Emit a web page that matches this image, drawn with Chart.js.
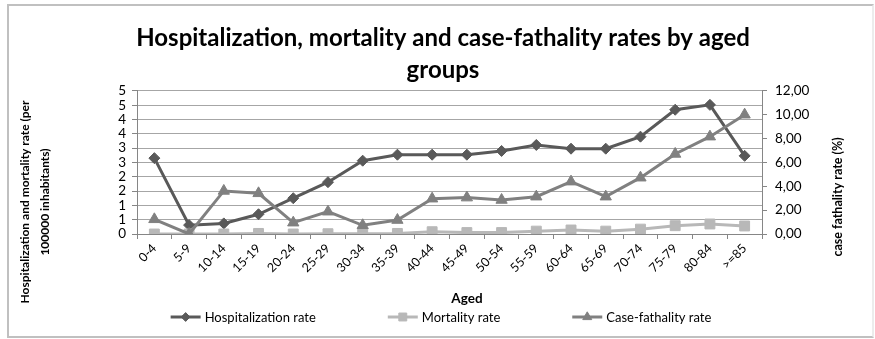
<!DOCTYPE html>
<html>
<head>
<meta charset="utf-8">
<script src="https://cdn.jsdelivr.net/npm/chart.js@4.4.1/dist/chart.umd.min.js"></script>
<style>
  html, body { margin: 0; padding: 0; background: #fff; }
  #wrap { position: relative; width: 875px; height: 339px; }
  #frame { position: absolute; left: 7px; top: 4px; width: 867px; height: 334px; border: 2px solid #c0c0c0; border-right-color: #ececec; box-sizing: border-box; pointer-events: none; }
  canvas { position: absolute; left: 0; top: 0; }
</style>
</head>
<body>
<div id="wrap">
  <canvas id="c" width="875" height="339"></canvas>
  <div id="frame"></div>
</div>
<script>
// ---- data ----
const titleLines = ['Hospitalization, mortality and case-fathality rates by aged', 'groups'];
const categories = ['0-4','5-9','10-14','15-19','20-24','25-29','30-34','35-39','40-44','45-49','50-54','55-59','60-64','65-69','70-74','75-79','80-84','>=85'];
const hospitalizationRate = [2.65,0.31,0.37,0.69,1.25,1.81,2.56,2.77,2.77,2.77,2.90,3.11,2.98,2.98,3.40,4.34,4.51,2.73];
const mortalityRate = [0.00,0.00,0.00,0.02,0.00,0.01,0.01,0.02,0.08,0.05,0.05,0.10,0.14,0.10,0.17,0.29,0.35,0.28];
const caseFatalityRate = [1.23,0.00,3.61,3.41,0.95,1.87,0.73,1.17,2.96,3.05,2.85,3.13,4.39,3.13,4.72,6.71,8.16,10.00];
const leftTickLabels = ['0','1','1','2','2','3','3','4','4','5','5'];
const rightTickLabels = ['0,00','2,00','4,00','6,00','8,00','10,00','12,00'];
const seriesLabels = ['Hospitalization rate','Mortality rate','Case-fathality rate'];
const xAxisTitle = 'Aged';
const leftAxisTitle = ['Hospitalization and mortality rate (per', '100000 inhabitants)'];
const rightAxisTitle = 'case fathality rate (%)';

const FONT = "Lato, 'Liberation Sans', Arial, sans-serif";
const C_HOSP = '#595959', C_MORT = '#b8b8b8', C_CF = '#808080';

const extraText = {
  id: 'extraText',
  afterDraw(chart) {
    const ctx = chart.ctx;
    ctx.save();
    ctx.fillStyle = '#000';
    ctx.textAlign = 'center';
    ctx.textBaseline = 'middle';
    // x axis title
    ctx.font = "bold 13.5px " + FONT;
    ctx.fillText(xAxisTitle, 467, 299);
    // left axis title
    ctx.font = "bold 12px " + FONT;
    ctx.save();
    ctx.translate(25, 202);
    ctx.rotate(-Math.PI / 2);
    ctx.fillText(leftAxisTitle[0], 0, 0);
    ctx.fillText(leftAxisTitle[1], 0, 20);
    ctx.restore();
    // right axis title
    ctx.font = "bold 12.5px " + FONT;
    ctx.save();
    ctx.translate(838, 197);
    ctx.rotate(-Math.PI / 2);
    ctx.fillText(rightAxisTitle, 0, 0);
    ctx.restore();
    // legend
    ctx.font = "13px " + FONT;
    ctx.textAlign = 'left';
    const gap = 72, lineLen = 30, txtGap = 4;
    const widths = chart.data.datasets.map(d => lineLen + txtGap + ctx.measureText(d.label).width);
    const total = widths.reduce((a, b) => a + b, 0) + gap * (widths.length - 1);
    let x = 441 - total / 2;
    const y = 317;
    chart.data.datasets.forEach((d, i) => {
      ctx.strokeStyle = d.borderColor;
      ctx.lineWidth = 3;
      ctx.beginPath();
      ctx.moveTo(x, y);
      ctx.lineTo(x + lineLen, y);
      ctx.stroke();
      ctx.fillStyle = d.backgroundColor;
      ctx.strokeStyle = d.borderColor;
      ctx.lineWidth = 1;
      Chart.helpers.drawPoint(ctx, { pointStyle: d.pointStyle, radius: d.pointRadius * 0.8, rotation: 0, borderWidth: 1 }, x + lineLen / 2, y);
      ctx.fillStyle = '#000';
      ctx.fillText(d.label, x + lineLen + txtGap, y + 1);
      x += widths[i] + gap;
    });
    ctx.restore();
  }
};

new Chart(document.getElementById('c'), {
  type: 'line',
  data: {
    labels: categories,
    datasets: [
      { label: seriesLabels[0], data: hospitalizationRate, yAxisID: 'y', borderColor: C_HOSP, backgroundColor: C_HOSP,
        borderWidth: 3, pointStyle: 'rectRot', pointRadius: 5.5, pointBorderWidth: 1, tension: 0, order: 2 },
      { label: seriesLabels[1], data: mortalityRate, yAxisID: 'y', borderColor: C_MORT, backgroundColor: C_MORT,
        borderWidth: 3, pointStyle: 'rect', pointRadius: 7, pointBorderWidth: 1, tension: 0, order: 1 },
      { label: seriesLabels[2], data: caseFatalityRate, yAxisID: 'y1', borderColor: C_CF, backgroundColor: C_CF,
        borderWidth: 3, pointStyle: 'triangle', pointRadius: 6.5, pointBorderWidth: 1, tension: 0, order: 0 }
    ]
  },
  options: {
    responsive: false,
    animation: false,
    events: [],
    layout: { padding: { left: 13, right: 2, top: 4, bottom: 45 } },
    plugins: {
      legend: { display: false },
      tooltip: { enabled: false },
      title: {
        display: true, text: titleLines, color: '#000',
        font: { family: FONT, size: 24, weight: 'bold', lineHeight: 1.33 },
        padding: { top: 18, bottom: 5 }
      }
    },
    scales: {
      x: {
        offset: true,
        grid: { offset: true, drawOnChartArea: false, drawTicks: true, tickLength: 5, color: '#868686' },
        border: { color: '#868686', width: 1 },
        ticks: { maxRotation: 45, minRotation: 45, color: '#000', font: { family: FONT, size: 12.5 }, padding: 2, autoSkip: false },
        afterFit: s => { s.height = 60; }
      },
      y: {
        position: 'left', min: 0, max: 5,
        ticks: { count: 11, autoSkip: false, color: '#000', font: { family: FONT, size: 13.5 }, padding: 6,
                 callback: (v, i) => leftTickLabels[i] },
        grid: { color: '#a6a6a6', tickColor: '#868686', tickLength: 5 },
        border: { color: '#868686' },
        afterFit: s => { s.width = 124; }
      },
      y1: {
        position: 'right', min: 0, max: 12,
        ticks: { count: 7, autoSkip: false, color: '#000', font: { family: FONT, size: 13.5 }, padding: 8,
                 callback: (v, i) => rightTickLabels[i] },
        grid: { drawOnChartArea: false, color: '#868686', tickLength: 5 },
        border: { color: '#868686' },
        afterFit: s => { s.width = 111; }
      }
    }
  },
  plugins: [extraText]
});
</script>
</body>
</html>
